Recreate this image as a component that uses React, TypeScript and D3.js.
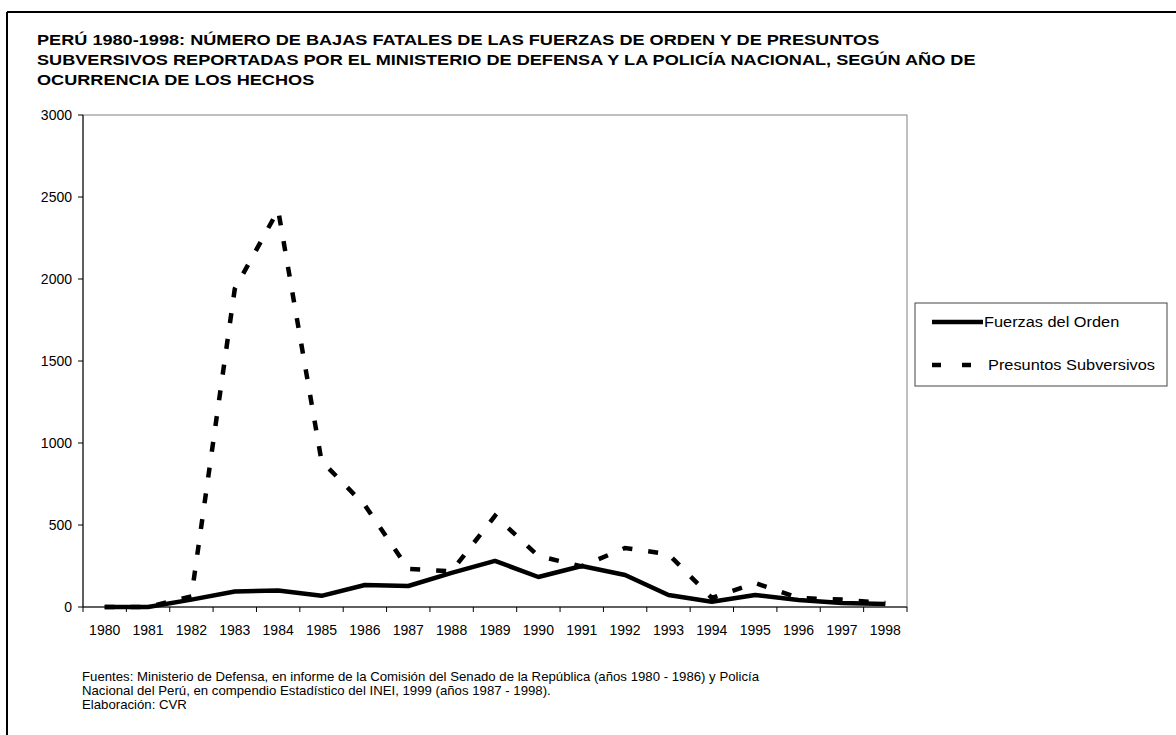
import React from "react";
import * as d3 from "d3";

const years = ["1980","1981","1982","1983","1984","1985","1986","1987","1988","1989","1990","1991","1992","1993","1994","1995","1996","1997","1998"];
const fuerzas = [0, 0, 45, 95, 100, 68, 134, 128, 208, 281, 183, 250, 195, 73, 32, 73, 43, 24, 18];
const presuntos = [0, 0, 65, 1940, 2420, 890, 620, 232, 218, 556, 311, 248, 360, 322, 55, 146, 55, 45, 25];
const yTicks = [0, 500, 1000, 1500, 2000, 2500, 3000];
const titleLines = [
  "PERÚ 1980-1998: NÚMERO DE BAJAS FATALES DE LAS FUERZAS DE ORDEN Y DE PRESUNTOS",
  "SUBVERSIVOS REPORTADAS POR EL MINISTERIO DE DEFENSA Y LA POLICÍA NACIONAL, SEGÚN AÑO DE",
  "OCURRENCIA DE LOS HECHOS",
];
const footLines = [
  "Fuentes: Ministerio de Defensa, en informe de la Comisión del Senado de la República (años 1980 - 1986) y Policía",
  "Nacional del Perú, en compendio Estadístico del INEI, 1999 (años 1987 - 1998).",
  "Elaboración: CVR",
];
const seriesNames = ["Fuerzas del Orden", "Presuntos Subversivos"];

export default function App() {
  const W = 1176, H = 735;
  const left = 83, right = 907, top = 115, bottom = 607;
  const x = d3.scaleBand().domain(years).range([left, right]);
  const y = d3.scaleLinear().domain([0, 3000]).range([bottom, top]);
  const cx = (d: string) => (x(d) as number) + x.bandwidth() / 2;
  const line = d3.line<number>().x((_, i) => cx(years[i])).y((v) => y(v));
  const font = "'Liberation Sans', Arial, sans-serif";
  return (
    <svg width={W} height={H} style={{ position: "absolute", left: 0, top: 0, background: "#fff" }} fontFamily={font}>
      <rect x={0} y={0} width={W} height={H} fill="#fff" />
      <line x1={7} y1={12} x2={W} y2={12} stroke="#000" strokeWidth={2} />
      <line x1={7} y1={12} x2={7} y2={H} stroke="#000" strokeWidth={2} />
      {titleLines.map((t, i) => (
        <text key={i} transform={`translate(37,${45 + i * 20}) scale(1.21,1)`} fontSize={15} fontWeight="bold" fill="#000">{t}</text>
      ))}
      <rect x={left} y={top} width={right - left} height={bottom - top} fill="none" stroke="#808080" strokeWidth={1} />
      <line x1={left} y1={top} x2={left} y2={bottom} stroke="#000" strokeWidth={1} />
      <line x1={left} y1={bottom} x2={right} y2={bottom} stroke="#000" strokeWidth={1} />
      {yTicks.map((t) => (
        <g key={t}>
          <line x1={left - 5} x2={left} y1={y(t)} y2={y(t)} stroke="#000" />
          <text x={72} y={y(t) + 5} fontSize={14} textAnchor="end" fill="#000">{t}</text>
        </g>
      ))}
      {years.map((yr) => (
        <g key={yr}>
          <line x1={(x(yr) as number)} x2={(x(yr) as number)} y1={bottom} y2={bottom + 5} stroke="#000" />
          <text x={cx(yr)} y={bottom + 28} fontSize={14} textAnchor="middle" fill="#000">{yr}</text>
        </g>
      ))}
      <line x1={right} x2={right} y1={bottom} y2={bottom + 5} stroke="#000" />
      <path d={line(presuntos) as string} fill="none" stroke="#000" strokeWidth={4.5} strokeDasharray="10,16" />
      <path d={line(fuerzas) as string} fill="none" stroke="#000" strokeWidth={4.5} strokeLinejoin="round" />
      <rect x={915} y={303} width={252} height={83} fill="#fff" stroke="#444" strokeWidth={1} />
      <line x1={932} x2={983} y1={322} y2={322} stroke="#000" strokeWidth={4.5} />
      <text transform="translate(984,327) scale(1.09,1)" fontSize={15} fill="#000">{seriesNames[0]}</text>
      <line x1={932} x2={971} y1={365} y2={365} stroke="#000" strokeWidth={4.5} strokeDasharray="9,21" />
      <text transform="translate(988,370) scale(1.09,1)" fontSize={15} fill="#000">{seriesNames[1]}</text>
      {footLines.map((t, i) => (
        <text key={i} transform={`translate(82,${681 + i * 14}) scale(1.1,1)`} fontSize={12} fill="#000">{t}</text>
      ))}
    </svg>
  );
}
